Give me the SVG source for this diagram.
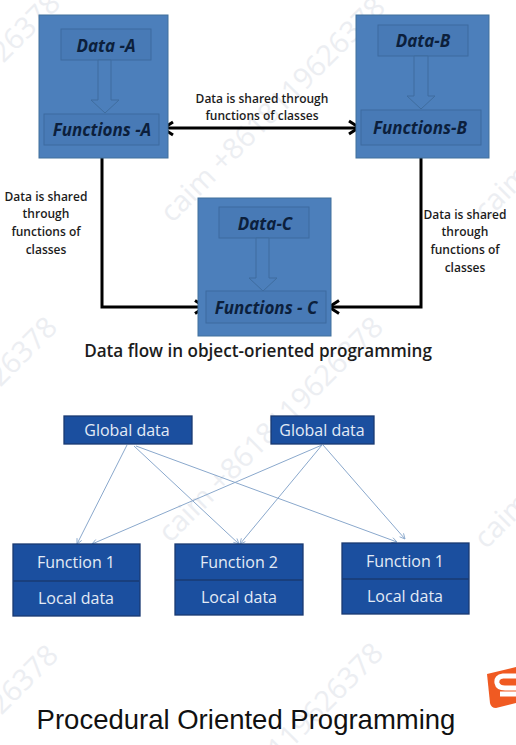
<svg xmlns="http://www.w3.org/2000/svg" width="516" height="745" viewBox="0 0 516 745">
<style>
.wm{font:29px "Open Sans",sans-serif;fill:#eceef2;text-anchor:end}
.wms{font:29px "Open Sans",sans-serif;fill:#eceef2}
.box{fill:#4c7fbb;stroke:#41719c;stroke-width:1}
.inner{fill:#487ab6;stroke:#3d6b9f;stroke-width:1}
.down{fill:#4c7fbb;stroke:#3f6d9f;stroke-width:1}
.it{font:italic bold 17px "Open Sans","Liberation Sans",sans-serif;fill:#0c1f3c;text-anchor:middle}
.lb{font:600 12px "Open Sans","Liberation Sans",sans-serif;fill:#1c1c1c;text-anchor:middle}
.tt{font:600 17.1px "Open Sans","Liberation Sans",sans-serif;fill:#1c1c1c;text-anchor:middle}
.bl{fill:#1b4f9f;stroke:#1a3a72;stroke-width:1.3}
.wt{font:16px "Open Sans","Liberation Sans",sans-serif;fill:#e3ebf6;text-anchor:middle}
.thick{fill:none;stroke:#000;stroke-width:3}
.head{fill:none;stroke:#000;stroke-width:3}
.thin{fill:none;stroke:#8aa8cc;stroke-width:1;marker-end:url(#a)}
</style>
<defs>
<marker id="a" viewBox="0 0 8 8" refX="7" refY="4" markerWidth="7" markerHeight="7" orient="auto"><path d="M1 1L7 4L1 7" fill="none" stroke="#8aa8cc" stroke-width="1"/></marker>
</defs>
<rect width="516" height="745" fill="#fff"/>
<g id="watermark">
<text class="wm" transform="translate(62,5) rotate(-45)">26378</text>
<text class="wm" transform="translate(387,9) rotate(-45)">caim +8618119626378</text>
<text class="wms" transform="translate(486,222) rotate(-45)">caim</text>
<text class="wm" transform="translate(59,329) rotate(-45)">26378</text>
<text class="wm" transform="translate(385,329) rotate(-45)">caim +8618119626378</text>
<text class="wms" transform="translate(486,550) rotate(-45)">caim</text>
<text class="wm" transform="translate(60,657) rotate(-45)">26378</text>
<text class="wm" transform="translate(385,655) rotate(-45)">119626378</text>
</g>
<g id="connectors">
<path class="thick" d="M166 128H358"/>
<path class="head" d="M173 122L163 128.500L173 135M349 121L359 127.500L349 134"/>
<path class="thick" d="M102 145V307H202"/>
<path class="head" d="M195 300.500L205 307L195 313.500"/>
<path class="thick" d="M421 145V307H332"/>
<path class="head" d="M339 300.500L329 307L339 313.500"/>
<path class="thin" d="M127 445L77 544"/>
<path class="thin" d="M134 446L239 544"/>
<path class="thin" d="M136 446L397 542"/>
<path class="thin" d="M322 445L92 544"/>
<path class="thin" d="M322 445L240 544"/>
<path class="thin" d="M323 445L405 539"/>
</g>
<g id="node-a">
<rect class="box" x="39" y="15" width="129" height="143"/>
<rect class="inner" x="61" y="29" width="90" height="31"/>
<path class="down" d="M98 60H111V100H119L105 113L91 100H98Z"/>
<rect class="inner" x="44" y="114" width="115" height="31"/>
<text class="it" x="106" y="52">Data -A</text>
<text class="it" x="102" y="136">Functions -A</text>
</g>
<g id="node-b">
<rect class="box" x="356" y="15" width="133" height="143"/>
<rect class="inner" x="378" y="25" width="90" height="31"/>
<path class="down" d="M414 56H428V96H435L421 109L407 96H414Z"/>
<rect class="inner" x="361" y="110" width="120" height="35"/>
<text class="it" x="423" y="47">Data-B</text>
<text class="it" x="420" y="134">Functions-B</text>
</g>
<g id="node-c">
<rect class="box" x="198" y="198" width="133" height="138"/>
<rect class="inner" x="219" y="207" width="90" height="31"/>
<path class="down" d="M256 238H269V278H277L263 291L249 278H256Z"/>
<rect class="inner" x="206" y="291" width="120" height="32"/>
<text class="it" x="265" y="230">Data-C</text>
<text class="it" x="266" y="314">Functions - C</text>
</g>
<g id="labels">
<text class="lb" x="262" y="103">Data is shared through</text>
<text class="lb" x="262" y="120">functions of classes</text>
<text class="lb" x="46" y="201">Data is shared</text>
<text class="lb" x="46" y="218">through</text>
<text class="lb" x="46" y="236">functions of</text>
<text class="lb" x="46" y="254">classes</text>
<text class="lb" x="465" y="219">Data is shared</text>
<text class="lb" x="465" y="236">through</text>
<text class="lb" x="465" y="254">functions of</text>
<text class="lb" x="465" y="272">classes</text>
<text class="tt" x="258" y="357">Data flow in object-oriented programming</text>
</g>
<g id="global-1"><rect class="bl" x="64" y="416" width="128" height="28"/><text class="wt" x="127" y="436">Global data</text></g>
<g id="global-2"><rect class="bl" x="271" y="416" width="103" height="28"/><text class="wt" x="322" y="436">Global data</text></g>
<g id="function-1">
<rect class="bl" x="13" y="544" width="127" height="72"/><path class="bl" d="M13 581H139"/>
<text class="wt" x="76" y="568">Function 1</text><text class="wt" x="76" y="604">Local data</text>
</g>
<g id="function-2">
<rect class="bl" x="175" y="544" width="128" height="71"/><path class="bl" d="M175 580H303"/>
<text class="wt" x="239" y="568">Function 2</text><text class="wt" x="239" y="603">Local data</text>
</g>
<g id="function-3">
<rect class="bl" x="342" y="543" width="127" height="71"/><path class="bl" d="M342 579H469"/>
<text class="wt" x="405" y="567">Function 1</text><text class="wt" x="405" y="602">Local data</text>
</g>
<text x="246" y="729" text-anchor="middle" font-family="'Liberation Sans',Arial,sans-serif" font-size="27.5" fill="#111">Procedural Oriented Programming</text>
<g id="logo">
<path d="M487 674L516 667V703L496 708Q491 708 490 703Z" fill="#f05a22"/>
<path d="M516 676H503Q496 677 497 683Q498 688 505 688H516M516 694H500" fill="none" stroke="#fff" stroke-width="5"/>
</g>
</svg>
